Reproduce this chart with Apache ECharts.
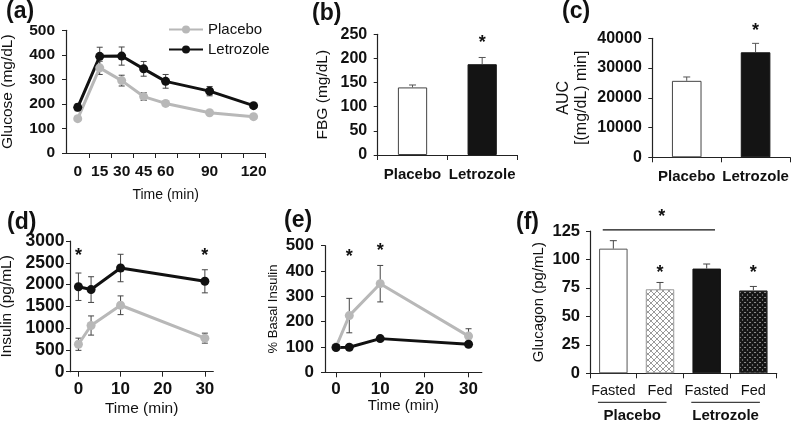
<!DOCTYPE html>
<html><head><meta charset="utf-8">
<script src="https://cdn.jsdelivr.net/npm/echarts@6/dist/echarts.min.js"></script>
<style>html,body{margin:0;padding:0;background:#fff}#c{width:791px;height:422px}</style>
</head><body><div id="c"></div>
<script>
// ---------------- data ----------------
const glucoseTimes = [0, 15, 30, 45, 60, 90, 120];
const glucosePlacebo = [140, 347, 295, 230, 202, 164, 148];
const glucosePlaceboErr = [8, 27, 22, 16, 9, 6, 5];
const glucoseLetrozole = [186, 394, 395, 343, 292, 252, 193];
const glucoseLetrozoleErr = [14, 37, 37, 30, 28, 19, 8];

const groupNames = ['Placebo', 'Letrozole'];
const fbgValues = [140, 188];
const fbgErr = [5, 14];
const aucValues = [25700, 35300];
const aucErr = [1300, 3000];

const insulinTimes = [0, 3, 10, 30];
const insulinPlacebo = [630, 1060, 1525, 770];
const insulinPlaceboErr = [140, 220, 215, 115];
const insulinLetrozole = [1950, 1885, 2380, 2075];
const insulinLetrozoleErr = [315, 295, 315, 265];

const basalPlacebo = [100, 224, 350, 143];
const basalPlaceboErr = [0, 68, 72, 29];
const basalLetrozole = [98, 99, 133, 111];
const basalLetrozoleErr = [3, 5, 7, 8];

const glucagonCategories = ['Fasted', 'Fed', 'Fasted', 'Fed'];
const glucagonValues = [109.5, 73.8, 92, 72.8];
const glucagonErr = [7, 6, 4, 3.5];
const glucagonGroups = [[0, 1], [2, 3]];

const timeTickLabels = [0, 10, 20, 30];

// significance markers [x, y]
const fbgStars = [[1, 240]];
const aucStars = [[1, 43800]];
const insulinStars = [[0, 2750], [30, 2750]];
const basalStars = [[3, 472], [10, 494]];
const glucagonStars = [[1, 92], [3, 92]];
const glucagonBracket = [[0, 2, 126]];

// ---------------- styling ----------------
const FONT = '"Liberation Sans", Arial, sans-serif';
const INK = '#111';
const GREY = '#b8b8b8';
const AXIS = '#222';

function makePattern(bg, fg, lw, s) {
  const c = document.createElement('canvas');
  c.width = s; c.height = s;
  const g = c.getContext('2d');
  g.fillStyle = bg; g.fillRect(0, 0, s, s);
  g.strokeStyle = fg; g.lineWidth = lw;
  g.beginPath();
  for (const dx of [-s, 0, s]) {
    g.moveTo(dx, 0); g.lineTo(dx + s, s);
    g.moveTo(dx + s, 0); g.lineTo(dx, s);
  }
  g.stroke();
  return {image: c, repeat: 'repeat'};
}
const lightHatch = makePattern('#ffffff', '#9a9a9a', 1, 6);
const darkHatch = makePattern('#b0b0b0', '#151515', 2.4, 5);

const boldLabel = size => ({color: INK, fontFamily: FONT, fontSize: size, fontWeight: 'bold'});
const nameStyle = size => ({color: INK, fontFamily: FONT, fontSize: size});
const axisLineOpt = () => ({show: true, onZero: false, lineStyle: {color: AXIS, width: 1.2}});
const plainNumber = v => String(v);

function yAxisOpt(grid, max, interval, name, nameGap, margin, labelSize, nameSize, nameExtra) {
  return {
    type: 'value', gridIndex: grid, min: 0, max, interval,
    splitLine: {show: false}, axisLine: axisLineOpt(),
    axisTick: {show: true, length: 4, lineStyle: {color: AXIS}},
    axisLabel: Object.assign({margin, formatter: plainNumber}, boldLabel(labelSize)),
    name, nameLocation: 'middle', nameGap, nameTextStyle: Object.assign(nameStyle(nameSize), nameExtra || {})
  };
}
function catAxisOpt(grid, labels, margin, labelStyle) {
  return {
    type: 'category', gridIndex: grid, data: labels.map((_, i) => String(i)),
    axisLine: axisLineOpt(), axisTick: {show: true, length: 5, interval: 0, lineStyle: {color: AXIS}},
    axisLabel: Object.assign({margin, interval: 0, formatter: (v, i) => labels[i]}, labelStyle),
    splitLine: {show: false}
  };
}
function timeAxisOpt(grid, min, max, ticks, labels, margin, nameGap, labelSize, nameSize) {
  return {
    type: 'value', gridIndex: grid, min, max,
    splitLine: {show: false}, axisLine: axisLineOpt(),
    axisTick: {show: true, length: 5, customValues: ticks, lineStyle: {color: AXIS}},
    axisLabel: Object.assign({margin, customValues: labels, formatter: plainNumber}, boldLabel(labelSize)),
    name: 'Time (min)', nameLocation: 'middle', nameGap, nameTextStyle: nameStyle(nameSize)
  };
}

const zip3 = (xs, ys, es) => ys.map((y, i) => [xs[i], y, es[i]]);
const idx3 = (ys, es) => ys.map((y, i) => [i, y, es[i]]);

function errSeries(grid, data, bothSides, color, halfCap, z) {
  return {
    type: 'custom', coordinateSystem: 'cartesian2d', xAxisIndex: grid, yAxisIndex: grid,
    data, z, silent: true, clip: false,
    renderItem(params, api) {
      const x = api.value(0), y = api.value(1), e = api.value(2);
      if (!e) return null;
      const top = api.coord([x, y + e]);
      const bot = api.coord([x, bothSides ? y - e : y]);
      const st = {stroke: color, lineWidth: 1};
      const ch = [
        {type: 'line', shape: {x1: top[0], y1: top[1], x2: bot[0], y2: bot[1]}, style: st},
        {type: 'line', shape: {x1: top[0] - halfCap, y1: top[1], x2: top[0] + halfCap, y2: top[1]}, style: st}
      ];
      if (bothSides) ch.push({type: 'line', shape: {x1: bot[0] - halfCap, y1: bot[1], x2: bot[0] + halfCap, y2: bot[1]}, style: st});
      return {type: 'group', children: ch};
    }
  };
}
function starText(x, y) {
  return {type: 'text', x, y: y + 4, style: {text: '*', fontFamily: FONT, fontSize: 18, fontWeight: 'bold', fill: INK, align: 'center', verticalAlign: 'middle'}};
}
function starSeries(grid, data) {
  return {
    type: 'custom', coordinateSystem: 'cartesian2d', xAxisIndex: grid, yAxisIndex: grid,
    data, z: 5, silent: true, clip: false,
    renderItem(params, api) {
      const p = api.coord([api.value(0), api.value(1)]);
      return starText(p[0], p[1]);
    }
  };
}
function lineSeries(grid, name, xs, ys, color) {
  return {
    type: 'line', name, xAxisIndex: grid, yAxisIndex: grid,
    data: ys.map((y, i) => [xs[i], y]),
    symbol: 'circle', symbolSize: 9, z: 3,
    lineStyle: {color, width: 3}, itemStyle: {color}
  };
}

const barStyles2 = [{color: '#ffffff', borderColor: '#444', borderWidth: 1}, {color: '#141414', borderColor: '#141414', borderWidth: 1}];
const barStyles4 = [
  {color: '#ffffff', borderColor: '#555', borderWidth: 1},
  {color: lightHatch, borderColor: '#999', borderWidth: 1},
  {color: '#141414', borderColor: '#141414', borderWidth: 1},
  {color: darkHatch, borderColor: '#333', borderWidth: 1}
];

const grids = [
  {left: 66, top: 30.3, width: 199.3, height: 122.7},
  {left: 377.7, top: 34.3, width: 139.3, height: 120.7},
  {left: 652.3, top: 38.3, width: 137.7, height: 119},
  {left: 70, top: 241, width: 143.3, height: 130.7},
  {left: 325, top: 245.7, width: 156.8, height: 126.6},
  {left: 590, top: 231, width: 186.7, height: 142.3}
].map(g => Object.assign({containLabel: false, outerBoundsMode: 'none'}, g));

const glucoseMin = -8, glucoseMax = 128;
const glucoseTickMarks = Array.from({length: 9}, (_, k) => -7 + 15 * (k + 1));

const panelTitles = [['(a)', 6, 0], ['(b)', 312, 2], ['(c)', 562, 0], ['(d)', 7, 211], ['(e)', 284, 209], ['(f)', 516, 211]];

const option = {
  backgroundColor: '#ffffff',
  animation: false,
  title: panelTitles.map(([t, l, tp]) => ({text: t, left: l, top: tp, padding: 0,
    textStyle: {fontFamily: FONT, fontSize: 23, fontWeight: 'bold', color: INK}})),
  legend: {
    orient: 'vertical', left: 168, top: 22, padding: 0, itemGap: 5,
    itemWidth: 34, itemHeight: 10, data: groupNames, selectedMode: false,
    textStyle: {fontFamily: FONT, fontSize: 15, color: INK}
  },
  grid: grids,
  xAxis: [
    timeAxisOpt(0, glucoseMin, glucoseMax, glucoseTickMarks, glucoseTimes, 11, 35, 15.5, 14),
    catAxisOpt(1, groupNames, 12, boldLabel(15)),
    catAxisOpt(2, groupNames, 12.5, boldLabel(15)),
    timeAxisOpt(3, -2, 32, timeTickLabels, timeTickLabels, 9, 29, 17, 15.5),
    timeAxisOpt(4, -2.5, 33, timeTickLabels, timeTickLabels, 8.5, 23.5, 17, 15),
    catAxisOpt(5, glucagonCategories, 10.5, {color: INK, fontFamily: FONT, fontSize: 14.5})
  ],
  yAxis: [
    yAxisOpt(0, 500, 100, 'Glucose (mg/dL)', 50, 11, 15.5, 15.5),
    yAxisOpt(1, 250, 50, 'FBG (mg/dL)', 47, 10.5, 16, 15.5),
    yAxisOpt(2, 40000, 10000, 'AUC\n[(mg/dL) min]', 62, 10.5, 16, 16, {lineHeight: 18}),
    yAxisOpt(3, 3000, 500, 'Insulin (pg/mL)', 55, 5.5, 17.5, 15.5),
    yAxisOpt(4, 500, 100, '% Basal Insulin', 45, 11, 17, 13),
    yAxisOpt(5, 125, 25, 'Glucagon (pg/mL)', 44, 10, 16.5, 15)
  ],
  series: [
    // (a)
    errSeries(0, zip3(glucoseTimes, glucosePlacebo, glucosePlaceboErr), true, '#444', 3, 1),
    errSeries(0, zip3(glucoseTimes, glucoseLetrozole, glucoseLetrozoleErr), true, '#444', 3, 1),
    lineSeries(0, 'Placebo', glucoseTimes, glucosePlacebo, GREY),
    lineSeries(0, 'Letrozole', glucoseTimes, glucoseLetrozole, INK),
    // (b)
    {type: 'bar', xAxisIndex: 1, yAxisIndex: 1, barWidth: '42%', z: 2,
     data: fbgValues.map((v, i) => ({value: v, itemStyle: barStyles2[i]}))},
    errSeries(1, idx3(fbgValues, fbgErr), false, '#555', 3.5, 3),
    starSeries(1, fbgStars),
    // (c)
    {type: 'bar', xAxisIndex: 2, yAxisIndex: 2, barWidth: '43%', z: 2,
     data: aucValues.map((v, i) => ({value: v, itemStyle: barStyles2[i]}))},
    errSeries(2, idx3(aucValues, aucErr), false, '#555', 3.5, 3),
    starSeries(2, aucStars),
    // (d)
    errSeries(3, zip3(insulinTimes, insulinPlacebo, insulinPlaceboErr), true, '#444', 3, 1),
    errSeries(3, zip3(insulinTimes, insulinLetrozole, insulinLetrozoleErr), true, '#444', 3, 1),
    lineSeries(3, 'Placebo', insulinTimes, insulinPlacebo, GREY),
    lineSeries(3, 'Letrozole', insulinTimes, insulinLetrozole, INK),
    starSeries(3, insulinStars),
    // (e)
    errSeries(4, zip3(insulinTimes, basalPlacebo, basalPlaceboErr), true, '#444', 3, 1),
    errSeries(4, zip3(insulinTimes, basalLetrozole, basalLetrozoleErr), true, '#444', 3, 1),
    lineSeries(4, 'Placebo', insulinTimes, basalPlacebo, GREY),
    lineSeries(4, 'Letrozole', insulinTimes, basalLetrozole, INK),
    starSeries(4, basalStars),
    // (f)
    {type: 'bar', xAxisIndex: 5, yAxisIndex: 5, barWidth: '61%', z: 2,
     data: glucagonValues.map((v, i) => ({value: v, itemStyle: barStyles4[i]}))},
    errSeries(5, idx3(glucagonValues, glucagonErr), false, '#444', 3.5, 3),
    starSeries(5, glucagonStars),
    {type: 'custom', coordinateSystem: 'cartesian2d', xAxisIndex: 5, yAxisIndex: 5,
     data: glucagonBracket, z: 5, silent: true, clip: false,
     renderItem(params, api) {
       const band = api.size([1, 0])[0];
       const p0 = api.coord([api.value(0), api.value(2)]);
       const p1 = api.coord([api.value(1), api.value(2)]);
       const x0 = p0[0] - 0.227 * band, x1 = p1[0] + 0.178 * band;
       return {type: 'group', children: [
         {type: 'line', shape: {x1: x0, y1: p0[1], x2: x1, y2: p0[1]}, style: {stroke: INK, lineWidth: 1.2}},
         starText((x0 + x1) / 2 + 3, p0[1] - 17)
       ]};
     }},
    {type: 'custom', coordinateSystem: 'cartesian2d', xAxisIndex: 5, yAxisIndex: 5,
     data: glucagonGroups, z: 5, silent: true, clip: false,
     renderItem(params, api) {
       const band = api.size([1, 0])[0];
       const p0 = api.coord([api.value(0), 0]);
       const p1 = api.coord([api.value(1), 0]);
       const x0 = p0[0] - 0.33 * band, x1 = p1[0] + 0.14 * band;
       const y = p0[1] + 29;
       return {type: 'group', children: [
         {type: 'line', shape: {x1: x0, y1: y, x2: x1, y2: y}, style: {stroke: INK, lineWidth: 1}},
         {type: 'text', x: (x0 + x1) / 2, y: y + 14, style: {text: groupNames[params.dataIndex], fontFamily: FONT,
           fontSize: 15, fontWeight: 'bold', fill: INK, align: 'center', verticalAlign: 'middle'}}
       ]};
     }}
  ]
};

const chart = echarts.init(document.getElementById('c'), null, {renderer: 'canvas', width: 791, height: 422});
chart.setOption(option);
</script>
</body></html>
